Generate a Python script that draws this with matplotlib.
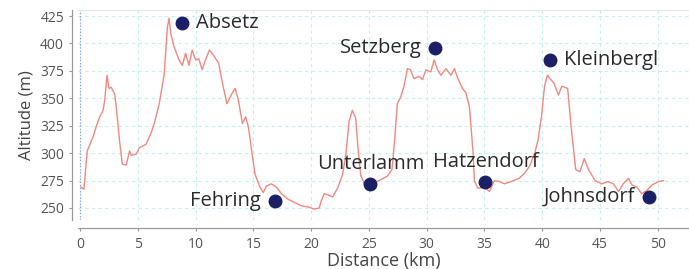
import matplotlib
matplotlib.use("Agg")
import matplotlib.pyplot as plt

# elevation profile (km, m)
distance_km = [
    0.09, 0.34, 0.63, 1.14, 1.43, 1.71, 2.0, 2.14, 2.34, 2.51, 2.71, 3.0, 3.14,
    3.43, 3.66, 4.0, 4.29, 4.43, 4.86, 5.14, 5.71, 6.14, 6.43, 6.86, 7.29, 7.57,
    7.71, 7.86, 8.14, 8.57, 8.86, 9.14, 9.43, 9.71, 10.0, 10.29, 10.57, 10.86,
    11.2, 11.57, 12.0, 12.29, 12.71, 13.14, 13.43, 13.71, 14.06, 14.34, 14.57,
    14.86, 15.14, 15.57, 15.86, 16.14, 16.57, 17.0, 17.43, 18.0, 18.57, 19.14,
    19.71, 20.29, 20.71, 20.86, 21.14, 21.43, 21.86, 22.29, 22.71, 23.0, 23.29,
    23.57, 23.86, 24.06, 24.29, 24.57, 25.0, 25.7, 26.6, 27.0, 27.23, 27.46,
    27.75, 28.04, 28.33, 28.6, 28.9, 29.35, 29.64, 29.93, 30.36, 30.65, 30.94,
    31.23, 31.67, 32.1, 32.4, 32.7, 33.1, 33.4, 33.7, 34.0, 34.13, 34.42, 35.0,
    35.43, 35.87, 36.3, 36.74, 37.3, 38.0, 38.5, 38.9, 39.35, 39.64, 39.93,
    40.2, 40.45, 40.65, 41.0, 41.4, 41.7, 42.2, 42.5, 42.9, 43.26, 43.64, 44.0,
    44.57, 45.14, 45.7, 46.16, 46.6, 47.0, 47.46, 47.75, 48.2, 48.6, 49.06,
    49.5, 50.07, 50.5,
]
altitude_m = [
    269, 267, 302, 315, 325, 333, 339, 348, 371, 359, 360, 354, 342,
    311, 290, 289, 302, 298, 299, 305, 308, 318, 327, 345, 372, 415,
    423, 409, 397, 385, 380, 391, 380, 394, 385, 386, 376, 385,
    394, 389, 382, 366, 345, 354, 359, 348, 327, 333, 324,
    302, 281, 269, 264, 270, 272, 269, 263, 258, 255, 252,
    251, 249, 250, 256, 263, 262, 260, 268, 280, 298, 329,
    339, 332, 304, 280, 273, 271, 274, 279, 285, 312, 345,
    351, 361, 377, 376, 368, 370, 367, 376, 374, 385, 376,
    371, 377, 371, 377, 368, 359, 355, 342, 303, 275, 268, 269,
    265, 275, 274, 272, 274, 277, 282, 288, 300, 312, 333,
    361, 371, 368, 364, 353, 361, 359, 324, 285, 283, 295, 285,
    275, 272, 274, 272, 265, 272, 277, 271, 269, 263, 266,
    271, 274, 275,
]

# waypoints
place_names = ["Absetz", "Fehring", "Unterlamm", "Setzberg", "Hatzendorf",
               "Kleinbergl", "Johnsdorf"]
place_km = [8.8, 16.86, 25.14, 30.74, 35.09, 40.68, 49.26]
place_m = [419, 256, 272, 396, 274, 385, 260]
label_side = ["right", "left", "above", "left", "above", "right", "left"]

x_ticks = list(range(0, 51, 5))
y_ticks = list(range(250, 426, 25))

plt.rcParams["font.family"] = ["Open Sans", "DejaVu Sans"]

fig = plt.figure(figsize=(6.89, 2.69), dpi=100)
ax = fig.add_axes([78 / 689, 49 / 269, 611 / 689, 210 / 269])

ax.plot(distance_km, altitude_m, color="#f4877f", lw=1.0, zorder=3)
ax.axvline(0, color="#8f9fd0", lw=0.9, ls=(0, (1, 1.5)), zorder=2)

offsets = {"right": (10, 0, "left", "center"),
           "left": (-10, 0, "right", "center"),
           "above": (0, 7, "center", "bottom")}
for name, km, m, side in zip(place_names, place_km, place_m, label_side):
    ax.plot(km, m, "o", color="#1b1f66", ms=9, zorder=4)
    dx, dy, ha, va = offsets[side]
    ax.annotate(name, (km, m), xytext=(dx, dy), textcoords="offset points",
                ha=ha, va=va, fontsize=14.5, color="#2b2b2b")

ax.set_xlim(-0.17, 52.7)
ax.set_ylim(239, 430.5)
ax.set_xticks(x_ticks)
ax.set_yticks(y_ticks)
ax.grid(True, color="#c4f0f0", lw=0.8, ls=(0, (3, 3)))
ax.set_axisbelow(True)

ax.spines["right"].set_visible(False)
ax.spines["top"].set_color("#e4e4e4")
ax.spines["left"].set_position(("outward", 4))
ax.spines["bottom"].set_position(("outward", 6))
for s in ("left", "bottom"):
    ax.spines[s].set_color("#999999")
    ax.spines[s].set_linewidth(0.9)

ax.tick_params(axis="both", labelsize=10, colors="#999999", labelcolor="#555555",
               length=2.5, width=0.8)

ax.set_xlabel("Distance (km)", fontsize=13, color="#444444", labelpad=0)
ax.set_ylabel("Altitude (m)", fontsize=12, color="#444444", labelpad=4)

fig.savefig("out.png", dpi=100, facecolor="white")
